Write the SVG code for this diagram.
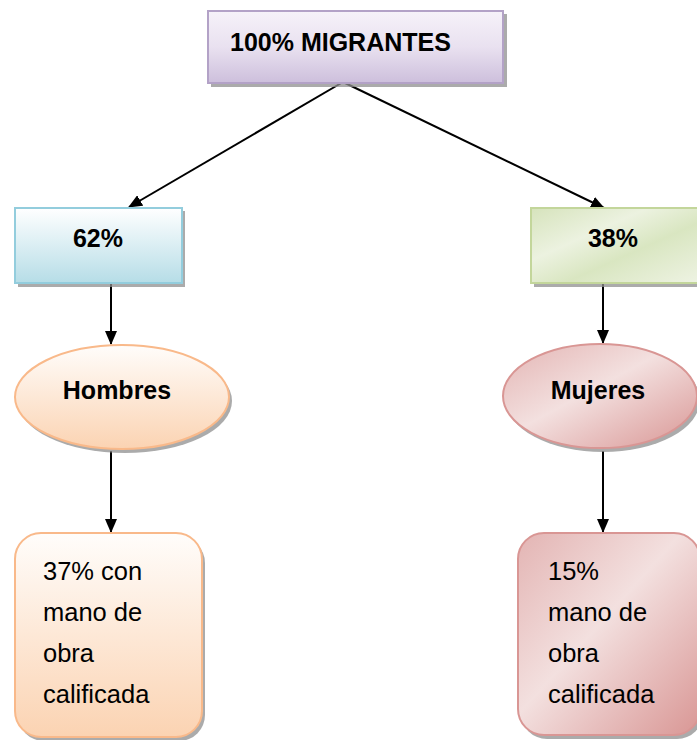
<svg xmlns="http://www.w3.org/2000/svg" width="697" height="740" viewBox="0 0 697 740">
<style>
.b{font-family:"Liberation Sans",Arial,sans-serif;font-weight:bold;font-size:25px;fill:#000}
.r{font-family:"Liberation Sans",Arial,sans-serif;font-size:25.5px;fill:#000}
.sh{fill:#8f8f8f;opacity:0.75}
.ln{stroke:#000;stroke-width:2;fill:none}
</style>
<defs>
<linearGradient id="gPurple" x1="0" y1="0" x2="0" y2="1"><stop offset="0" stop-color="#f6f2f9"/><stop offset="0.5" stop-color="#e9e1f0"/><stop offset="1" stop-color="#cdbfdc"/></linearGradient>
<linearGradient id="gBlue" x1="0" y1="0" x2="0" y2="1"><stop offset="0" stop-color="#ffffff"/><stop offset="1" stop-color="#b6dde7"/></linearGradient>
<linearGradient id="gGreen" x1="0" y1="0" x2="1" y2="1"><stop offset="0" stop-color="#d6e3bc"/><stop offset="0.35" stop-color="#ecf2e0"/><stop offset="0.6" stop-color="#d9e6c1"/><stop offset="1" stop-color="#eef3e3"/></linearGradient>
<linearGradient id="gPeach" x1="0" y1="0" x2="0" y2="1"><stop offset="0" stop-color="#fffdfb"/><stop offset="1" stop-color="#fbd3b2"/></linearGradient>
<linearGradient id="gPink" x1="0" y1="0" x2="1" y2="1"><stop offset="0" stop-color="#e3b4b3"/><stop offset="0.45" stop-color="#f3e0df"/><stop offset="0.7" stop-color="#e7bebd"/><stop offset="1" stop-color="#d99694"/></linearGradient>
<marker id="ah" markerWidth="14" markerHeight="12" refX="13" refY="6" orient="auto" markerUnits="userSpaceOnUse"><path d="M0,0 L14,6 L0,12 z" fill="#000"/></marker>
</defs>
<g id="connectors">
<line class="ln" x1="343" y1="82" x2="129" y2="207" marker-end="url(#ah)"/>
<line class="ln" x1="343" y1="82" x2="604" y2="208" marker-end="url(#ah)"/>
<line class="ln" x1="111" y1="284" x2="111" y2="344" marker-end="url(#ah)"/>
<line class="ln" x1="603" y1="284" x2="603" y2="343" marker-end="url(#ah)"/>
<line class="ln" x1="111" y1="451" x2="111" y2="532" marker-end="url(#ah)"/>
<line class="ln" x1="603" y1="451" x2="603" y2="532" marker-end="url(#ah)"/>
</g>
<g id="migrantes">
<rect class="sh" x="211" y="14" width="296" height="73"/>
<rect x="208" y="11" width="295" height="72" fill="url(#gPurple)" stroke="#b3a2c7" stroke-width="2"/>
<text class="b" x="230" y="51">100% MIGRANTES</text>
</g>
<g id="p62">
<rect class="sh" x="18" y="211" width="167" height="76"/>
<rect x="15" y="208" width="167" height="75" fill="url(#gBlue)" stroke="#93cddd" stroke-width="2"/>
<text class="b" x="98" y="247" text-anchor="middle">62%</text>
</g>
<g id="p38">
<rect class="sh" x="534" y="211" width="167" height="76"/>
<rect x="531" y="208" width="167" height="75" fill="url(#gGreen)" stroke="#c3d69b" stroke-width="2"/>
<text class="b" x="613" y="247" text-anchor="middle">38%</text>
</g>
<g id="hombres">
<ellipse class="sh" cx="125" cy="401" rx="107" ry="52"/>
<ellipse cx="122" cy="397" rx="107" ry="52" fill="url(#gPeach)" stroke="#f9b98a" stroke-width="2"/>
<text class="b" x="117" y="399" text-anchor="middle">Hombres</text>
</g>
<g id="mujeres">
<ellipse class="sh" cx="603" cy="400" rx="97" ry="52"/>
<ellipse cx="600" cy="396" rx="97" ry="52" fill="url(#gPink)" stroke="#d99694" stroke-width="2"/>
<text class="b" x="598" y="399" text-anchor="middle">Mujeres</text>
</g>
<g id="hombres-detalle">
<rect class="sh" x="18" y="537" width="187" height="204" rx="26"/>
<rect x="15" y="533" width="187" height="204" rx="26" fill="url(#gPeach)" stroke="#f9b98a" stroke-width="2"/>
<text class="r" x="43" y="580">37% con</text>
<text class="r" x="43" y="621">mano de</text>
<text class="r" x="43" y="662">obra</text>
<text class="r" x="43" y="703">calificada</text>
</g>
<g id="mujeres-detalle">
<rect class="sh" x="521" y="537" width="182" height="202" rx="26"/>
<rect x="518" y="533" width="182" height="202" rx="26" fill="url(#gPink)" stroke="#d99694" stroke-width="2"/>
<text class="r" x="548" y="580">15%</text>
<text class="r" x="548" y="621">mano de</text>
<text class="r" x="548" y="662">obra</text>
<text class="r" x="548" y="703">calificada</text>
</g>
</svg>
